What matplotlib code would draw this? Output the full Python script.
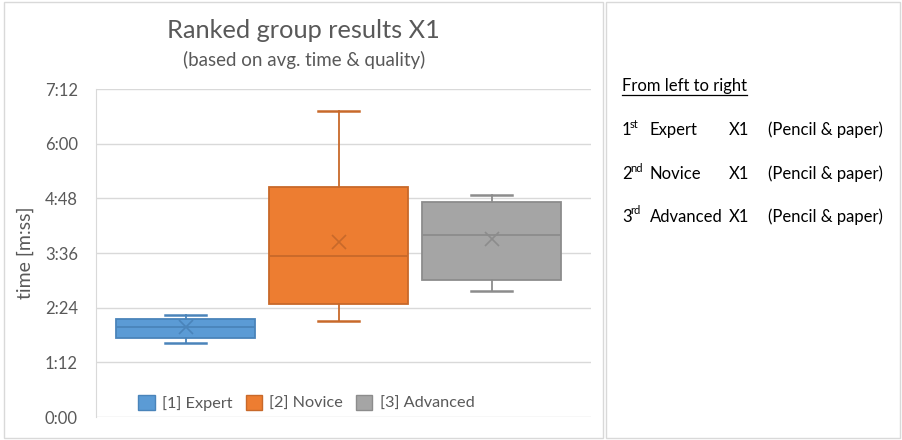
import numpy as np
import matplotlib.pyplot as plt
from matplotlib.patches import Rectangle
from matplotlib.ticker import FuncFormatter

plt.rcParams['font.family'] = ['Lato', 'DejaVu Sans']

# group results, seconds
groups = ['[1] Expert', '[2] Novice', '[3] Advanced']
whislo = [97, 126, 166]
q1 = [104, 149, 181]
med = [119, 212, 240]
mean = [118, 230, 235]
q3 = [129, 303, 283]
whishi = [134, 403, 292]

fills = ['#5B9BD5', '#ED7D31', '#A5A5A5']
edges = ['#4A84BA', '#C8692A', '#8C8C8C']

yticks = [0, 72, 144, 216, 288, 360, 432]

ranks = ['1', '2', '3']
sups = ['st', 'nd', 'rd']
names = ['Expert', 'Novice', 'Advanced']

fig = plt.figure(figsize=(9.03, 4.4), dpi=100)

# panel borders
W, H = 903, 440
fig.patches.append(Rectangle((4 / W, 2 / H), 599 / W, 436 / H, transform=fig.transFigure,
                             fill=False, ec='#D9D9D9', lw=1))
fig.patches.append(Rectangle((606 / W, 2 / H), 294 / W, 436 / H, transform=fig.transFigure,
                             fill=False, ec='#D9D9D9', lw=1))

ax = fig.add_axes([96 / W, 23 / H, 495 / W, 328 / H])

for i in range(3):
    st = [dict(whislo=whislo[i], q1=q1[i], med=med[i], q3=q3[i], whishi=whishi[i],
               mean=mean[i], fliers=[])]
    ec = edges[i]
    ax.bxp(st, positions=[i], widths=0.908, patch_artist=True, showmeans=True,
           boxprops=dict(facecolor=fills[i], edgecolor=ec, lw=1.3),
           medianprops=dict(color=ec, lw=1.3),
           whiskerprops=dict(color=ec, lw=1.3),
           capprops=dict(color=ec, lw=1.8), capwidths=0.27,
           meanprops=dict(marker='x', markeredgecolor=ec, markersize=10, markeredgewidth=1.2))

ax.set_xlim(-0.585, 2.65)
ax.set_ylim(0, 432)
ax.set_yticks(yticks)
ax.yaxis.set_major_formatter(FuncFormatter(lambda v, p: '%d:%02d' % (v // 60, v % 60)))
ax.set_xticks([])
ax.grid(axis='y', color='#D9D9D9', lw=1)
ax.set_axisbelow(True)
for s in ['top', 'right', 'bottom']:
    ax.spines[s].set_visible(False)
ax.spines['left'].set_color('#D9D9D9')
ax.tick_params(axis='y', length=0, pad=13, labelsize=12, labelcolor='#595959')
ax.set_ylabel('time [m:ss]', fontsize=14, color='#595959', labelpad=8)

handles = [Rectangle((0, 0), 1, 1, fc=fills[i], ec=edges[i]) for i in range(3)]
ax.legend(handles, groups, loc='center', bbox_to_anchor=(0.425, 0.043), ncol=3,
          frameon=False, fontsize=11.7, labelcolor='#595959', handlelength=1.0,
          handleheight=1.0, columnspacing=0.8, handletextpad=0.45,
          borderpad=0, borderaxespad=0)

fig.text(303 / W, 1 - 30 / H, 'Ranked group results X1', ha='center', va='center',
         fontsize=18.3, color='#595959')
fig.text(304 / W, 1 - 60 / H, '(based on avg. time & quality)', ha='center', va='center',
         fontsize=13.5, color='#595959')

# right side text
t = fig.text(622 / W, 1 - 86 / H, 'From left to right', ha='left', va='center',
             fontsize=12, color='black')
fig.canvas.draw()
bb = t.get_window_extent()
fig.add_artist(plt.Line2D([bb.x0 / W, bb.x1 / W], [(bb.y0 - 1) / H, (bb.y0 - 1) / H],
                          transform=fig.transFigure, color='black', lw=0.9))
row_y = [130, 174, 217]
for i in range(3):
    y = 1 - row_y[i] / H
    fig.text(622 / W, y, ranks[i], ha='left', va='center', fontsize=12)
    fig.text(630 / W, y + 6 / H, sups[i], ha='left', va='center', fontsize=8)
    fig.text(650 / W, y, names[i], ha='left', va='center', fontsize=12)
    fig.text(729 / W, y, 'X1', ha='left', va='center', fontsize=12)
    fig.text(768 / W, y, '(Pencil & paper)', ha='left', va='center', fontsize=12)

fig.savefig('out.png', dpi=100)
